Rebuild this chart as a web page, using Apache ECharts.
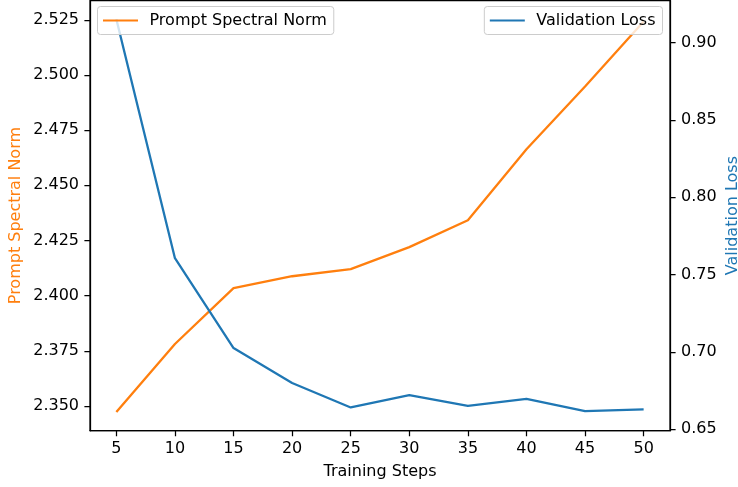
<!DOCTYPE html>
<html>
<head>
<meta charset="utf-8">
<script src="https://cdn.jsdelivr.net/npm/echarts@6/dist/echarts.min.js"></script>
<style>
html,body{margin:0;padding:0;background:#fff;}
#chart{width:738px;height:487px;}
</style>
</head>
<body>
<div id="chart"></div>
<script>
// Data
const steps = [5, 10, 15, 20, 25, 30, 35, 40, 45, 50];
const promptNorm = [2.3473, 2.3781, 2.4034, 2.4088, 2.4120, 2.4220, 2.4342, 2.4663, 2.4948, 2.5242];
const valLoss = [0.9150, 0.7606, 0.7025, 0.6799, 0.6641, 0.6721, 0.6652, 0.6696, 0.6618, 0.6629];
const xTicks = [5, 10, 15, 20, 25, 30, 35, 40, 45, 50];
const leftTicks = [2.350, 2.375, 2.400, 2.425, 2.450, 2.475, 2.500, 2.525];
const rightTicks = [0.65, 0.70, 0.75, 0.80, 0.85, 0.90];

const ORANGE = '#ff7f0e', BLUE = '#1f77b4';
const FONT = 'DejaVu Sans';
const FS = 16;

const chart = echarts.init(document.getElementById('chart'), null, {renderer: 'canvas'});
const legendBase = {
  orient: 'horizontal',
  top: 6.5,
  padding: [6, 7, 6, 5.5],
  itemWidth: 35,
  itemHeight: 2,
  icon: 'rect',
  backgroundColor: 'rgba(255,255,255,0.8)',
  borderColor: '#cccccc',
  borderWidth: 1,
  borderRadius: 3,
  textStyle: {fontFamily: FONT, fontSize: FS, color: '#000', padding: [0, 0, 0, 6.5]}
};
const axisLine = {show: true, lineStyle: {color: '#000', width: 1.25}};
chart.setOption({
  animation: false,
  backgroundColor: '#fff',
  textStyle: {fontFamily: FONT},
  grid: {left: 90, right: 68, top: 0.5, bottom: 56.3, containLabel: false, outerBoundsMode: 'none',
         show: true, borderColor: '#000', borderWidth: 1.25, backgroundColor: 'transparent'},
  legend: [
    Object.assign({}, legendBase, {left: 97.5, data: ['Prompt Spectral Norm']}),
    Object.assign({}, legendBase, {right: 75.5, data: ['Validation Loss']})
  ],
  xAxis: {
    type: 'value', min: 2.75, max: 52.25,
    name: 'Training Steps', nameLocation: 'middle', nameGap: 33, nameMoveOverlap: false,
    nameTextStyle: {fontFamily: FONT, fontSize: FS, color: '#000'},
    axisLine: axisLine,
    axisTick: {show: true, length: 5.6, lineStyle: {color: '#000', width: 1.25}, customValues: xTicks},
    axisLabel: {fontFamily: FONT, fontSize: FS, color: '#000', margin: 10, customValues: xTicks, formatter: v => String(v)},
    splitLine: {show: false}
  },
  yAxis: [
    {
      type: 'value', position: 'left', min: 2.33882, max: 2.53373,
      name: 'Prompt Spectral Norm', nameLocation: 'middle', nameGap: 66, nameRotate: 90, nameMoveOverlap: false,
      nameTextStyle: {fontFamily: FONT, fontSize: FS, color: ORANGE},
      axisLine: axisLine,
      axisTick: {show: true, length: 5.6, lineStyle: {color: '#000', width: 1.25}, customValues: leftTicks},
      axisLabel: {fontFamily: FONT, fontSize: FS, color: '#000', margin: 11, customValues: leftTicks, formatter: v => v.toFixed(3)},
      splitLine: {show: false}
    },
    {
      type: 'value', position: 'right', min: 0.64910, max: 0.92711,
      name: 'Validation Loss', nameLocation: 'middle', nameGap: 55, nameRotate: 90, nameMoveOverlap: false,
      nameTextStyle: {fontFamily: FONT, fontSize: FS, color: BLUE},
      axisLine: axisLine,
      axisTick: {show: true, length: 5.6, lineStyle: {color: '#000', width: 1.25}, customValues: rightTicks},
      axisLabel: {fontFamily: FONT, fontSize: FS, color: '#000', margin: 11, customValues: rightTicks, formatter: v => v.toFixed(2)},
      splitLine: {show: false}
    }
  ],
  series: [
    {
      name: 'Prompt Spectral Norm', type: 'line', yAxisIndex: 0,
      data: steps.map((s, i) => [s, promptNorm[i]]),
      showSymbol: false, symbol: 'none',
      lineStyle: {color: ORANGE, width: 2.3}, itemStyle: {color: ORANGE}
    },
    {
      name: 'Validation Loss', type: 'line', yAxisIndex: 1,
      data: steps.map((s, i) => [s, valLoss[i]]),
      showSymbol: false, symbol: 'none',
      lineStyle: {color: BLUE, width: 2.3}, itemStyle: {color: BLUE}
    }
  ]
});
</script>
</body>
</html>
